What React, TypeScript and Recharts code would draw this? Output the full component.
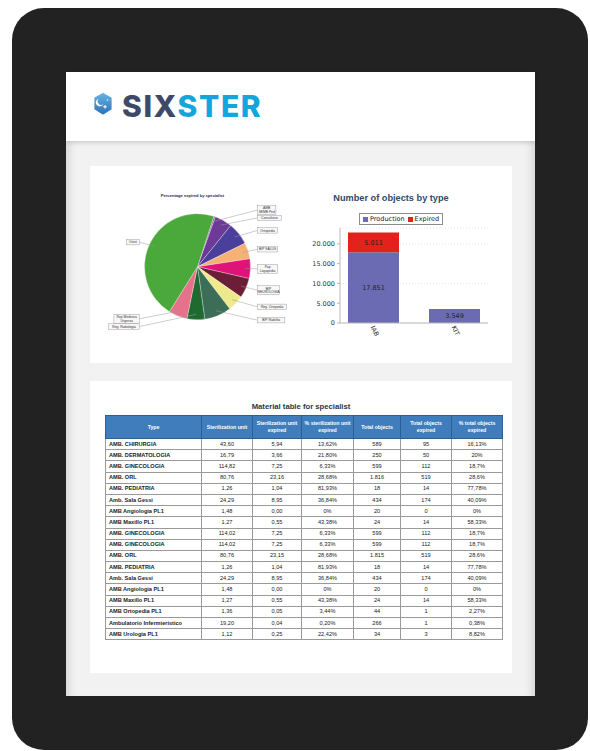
import { PieChart, Pie, Cell, BarChart, Bar, XAxis, YAxis, CartesianGrid, Legend, LabelList } from "recharts"

// pie: percentage expired by specialist (clockwise from the top)
const specialistNames = [
  "AMB\nSEMB Ped",
  "Consultorio",
  "Ortopedia",
  "BIP SALUS",
  "Pap\nLogopedia",
  "BIP\nNEUROLOGIA",
  "Reg. Ortopedia",
  "BIP Riabilita",
  "Reg. Radiologia",
  "Rep Medicina\nUrgenza",
  "Ostet",
]
const specialistShares = [0.5, 5.3, 6.9, 4.9, 6.0, 6.1, 4.9, 8.2, 5.4, 5.7, 46.1]
const specialistColors = [
  "#a05ab8", "#6e3a98", "#4b3f9c", "#f4b274", "#df1479", "#6c1e36",
  "#eee98a", "#3c6d56", "#1f6a30", "#e6718b", "#4aa93a",
]

// bars: number of objects by type
const objectTypes = ["IAB", "KIT"]
const productionCounts = [17851, 3549]
const expiredCounts = [5011, 0]
const yTicks = [0, 5000, 10000, 15000, 20000]
const seriesOrder = ["Production", "Expired"]

// material table
const tableHeaders = [
  "Type",
  "Sterilization unit",
  "Sterilization unit expired",
  "% sterilization unit expired",
  "Total objects",
  "Total objects expired",
  "% total objects expired",
]
const rowTypes = [
  "AMB. CHIRURGIA", "AMB. DERMATOLOGIA", "AMB. GINECOLOGIA", "AMB. ORL", "AMB. PEDIATRIA",
  "Amb. Sala Gessi", "AMB Angiologia PL1", "AMB Maxillo PL1", "AMB. GINECOLOGIA", "AMB. GINECOLOGIA",
  "AMB. ORL", "AMB. PEDIATRIA", "Amb. Sala Gessi", "AMB Angiologia PL1", "AMB Maxillo PL1",
  "AMB Ortopedia PL1", "Ambulatorio Infermieristico", "AMB Urologia PL1",
]
const sterUnits = ["43,60", "16,79", "114,82", "80,76", "1,26", "24,29", "1,48", "1,27", "114,02", "114,02", "80,76", "1,26", "24,29", "1,48", "1,27", "1,36", "19,20", "1,12"]
const sterUnitsExpired = ["5,94", "3,66", "7,25", "23,16", "1,04", "8,95", "0,00", "0,55", "7,25", "7,25", "23,15", "1,04", "8,95", "0,00", "0,55", "0,05", "0,04", "0,25"]
const sterPctExpired = ["13,62%", "21,80%", "6,33%", "28,68%", "81,93%", "36,84%", "0%", "43,38%", "6,33%", "6,33%", "28,68%", "81,93%", "36,84%", "0%", "43,38%", "3,44%", "0,20%", "22,42%"]
const totalObjects = ["589", "250", "599", "1.816", "18", "434", "20", "24", "599", "599", "1.815", "18", "434", "20", "24", "44", "266", "34"]
const totalObjectsExpired = ["95", "50", "112", "519", "14", "174", "0", "14", "112", "112", "519", "14", "174", "0", "14", "1", "1", "3"]
const totalPctExpired = ["16,13%", "20%", "18,7%", "28,6%", "77,78%", "40,09%", "0%", "58,33%", "18,7%", "18,7%", "28,6%", "77,78%", "40,09%", "0%", "58,33%", "2,27%", "0,38%", "8,82%"]

const colWidths = [96, 51, 49, 52, 47, 51, 51]

const PROD = "#6a6bb3"
const EXP = "#e2221d"
const PIE_START = 72
const PIE_R = 53
const LABEL_R = PIE_R + 5
const LINE_H = 3.6

const fmt = (v: number) => String(v).replace(/\B(?=(\d{3})+(?!\d))/g, ".")

const pieData = specialistNames.map((name, i) => ({ name, value: specialistShares[i] }))
const barData = objectTypes.map((type, i) => ({
  type,
  production: productionCounts[i],
  expired: expiredCounts[i],
}))

// label y offsets from the pie centre, spread apart so boxes don't collide
const labelOffsets = (() => {
  const total = specialistShares.reduce((a, b) => a + b, 0)
  let a = PIE_START
  const items = specialistShares.map((v, i) => {
    const sweep = (v / total) * 360
    const mid = a - sweep / 2
    a -= sweep
    const rad = (-mid * Math.PI) / 180
    const h = specialistNames[i].split("\n").length * LINE_H + 1.8
    return { i, right: Math.cos(rad) >= 0, y: LABEL_R * Math.sin(rad), h }
  })
  for (const side of [true, false]) {
    const group = items.filter((it) => it.right === side).sort((p, q) => p.y - q.y)
    for (let pass = 0; pass < 6; pass++) {
      for (let k = 1; k < group.length; k++) {
        const need = (group[k - 1].h + group[k].h) / 2 + 0.6
        const d = need - (group[k].y - group[k - 1].y)
        if (d > 0) {
          group[k - 1].y -= d / 2
          group[k].y += d / 2
        }
      }
    }
  }
  const out: number[] = []
  items.forEach((it) => (out[it.i] = it.y))
  return out
})()

function PieLabel(props: any) {
  const { cx, cy, midAngle, outerRadius, index } = props
  const rad = (-midAngle * Math.PI) / 180
  const cos = Math.cos(rad)
  const sin = Math.sin(rad)
  const sx = cx + outerRadius * 0.9 * cos
  const sy = cy + outerRadius * 0.9 * sin
  const ly = cy + labelOffsets[index]
  const right = cos >= 0
  const lines = specialistNames[index].split("\n")
  const w = Math.max(...lines.map((l) => l.length)) * 1.8 + 4
  const h = lines.length * LINE_H + 1.8
  const bx = right ? cx + outerRadius + 7 : cx - outerRadius - 5 - w
  const ex = right ? bx : bx + w
  return (
    <g>
      <polyline points={`${sx},${sy} ${ex},${ly}`} stroke="#9a9a9a" strokeWidth={0.5} fill="none" />
      <rect x={bx} y={ly - h / 2} width={w} height={h} fill="#f7f7f7" stroke="#8a8a8a" strokeWidth={0.4} />
      {lines.map((l, i) => (
        <text key={i} x={bx + w / 2} y={ly - h / 2 + 3.9 + i * LINE_H} fontSize={3.3}
          textAnchor="middle" fill="#333" fontFamily="Liberation Sans, Arial, sans-serif">
          {l}
        </text>
      ))}
    </g>
  )
}

function RotatedTick(props: any) {
  const { x, y, payload } = props
  return (
    <g transform={`translate(${x - 3},${y - 4})`}>
      <text x={0} y={0} transform="rotate(65)" textAnchor="start" fontSize={6.5}
        fill="#333" fontFamily="DejaVu Sans, sans-serif">
        {payload.value}
      </text>
    </g>
  )
}

function BarLegend(props: any) {
  const items = [...(props.payload || [])].sort(
    (p: any, q: any) => seriesOrder.indexOf(p.value) - seriesOrder.indexOf(q.value),
  )
  return (
    <div style={{
      display: "flex", alignItems: "center", gap: 3, border: "1px solid #8c8c8c",
      background: "#fff", padding: "0 3px", height: 12, boxSizing: "border-box",
      fontSize: 6.5, fontFamily: "DejaVu Sans, sans-serif", color: "#222", whiteSpace: "nowrap",
    }}>
      {items.map((it: any) => (
        <span key={it.value} style={{ display: "flex", alignItems: "center", gap: 2 }}>
          <span style={{ width: 5, height: 5, background: it.color, display: "inline-block" }} />
          {it.value}
        </span>
      ))}
    </div>
  )
}

function Logo() {
  return (
    <div style={{ position: "absolute", left: 94, top: 91, height: 30, display: "flex" }}>
      <svg width={18} height={22} viewBox="0 0 18 22" style={{ marginTop: 2 }}>
        <defs>
          <linearGradient id="lg" x1="0" y1="0" x2="0" y2="1">
            <stop offset="0" stopColor="#62b2e6" />
            <stop offset="1" stopColor="#2f72b8" />
          </linearGradient>
        </defs>
        <path d="M9 0.5 L17 5 L17 16 L9 21 L1 16 L1 5 Z" fill="url(#lg)" stroke="url(#lg)" strokeWidth={1.2} strokeLinejoin="round" />
        <path d="M5 5.5 A4 4 0 1 0 9.5 11 A3 3 0 1 1 5 5.5 Z" fill="#fff" />
        <rect x={9.2} y={13.3} width={3.6} height={1} fill="#fff" />
        <rect x={10.5} y={12} width={1} height={3.6} fill="#fff" />
        <circle cx={13.5} cy={7} r={0.8} fill="#fff" />
      </svg>
      <div style={{
        marginLeft: 10, fontFamily: "Inter, sans-serif", fontWeight: 800, fontSize: 30,
        lineHeight: "30px", letterSpacing: 1.6,
      }}>
        <span style={{ color: "#3c4a67" }}>SIX</span>
        <span style={{ color: "#12a6dc" }}>STER</span>
      </div>
    </div>
  )
}

function MaterialTable() {
  const columns = [rowTypes, sterUnits, sterUnitsExpired, sterPctExpired, totalObjects, totalObjectsExpired, totalPctExpired]
  const cellFont = { fontFamily: "Liberation Sans, Arial, sans-serif", fontSize: 5.6 }
  return (
    <table style={{
      position: "absolute", left: 105, top: 415, width: 397, borderCollapse: "collapse",
      tableLayout: "fixed", border: "1.5px solid #555", ...cellFont,
    }}>
      <colgroup>
        {colWidths.map((w, i) => <col key={i} style={{ width: w }} />)}
      </colgroup>
      <thead>
        <tr style={{ height: 23 }}>
          {tableHeaders.map((h) => (
            <th key={h} style={{
              background: "#3f7dbd", color: "#fff", fontWeight: 700, border: "1px solid #2d5f92",
              padding: "0 1px", textAlign: "center", lineHeight: "7px", fontSize: 5.2,
            }}>{h}</th>
          ))}
        </tr>
      </thead>
      <tbody>
        {rowTypes.map((t, r) => (
          <tr key={r} style={{ height: 11.2 }}>
            {columns.map((col, c) => (
              <td key={c} style={{
                border: "1px solid #9a9a9a", padding: c === 0 ? "0 3px" : 0,
                textAlign: c === 0 ? "left" : "center", fontWeight: c === 0 ? 700 : 400,
                color: "#222", lineHeight: "9px", whiteSpace: "nowrap",
              }}>{col[r]}</td>
            ))}
          </tr>
        ))}
      </tbody>
    </table>
  )
}

export default function App() {
  return (
    <div style={{ position: "fixed", left: 0, top: 0, width: 590, height: 751, background: "#fff", overflow: "hidden" }}>
      <style>{`.pie-box .recharts-pie-sectors{filter:drop-shadow(1px 1.5px 1px rgba(0,0,0,0.35))}`}</style>
      {/* tablet frame */}
      <div style={{ position: "absolute", left: 12, top: 8, width: 576, height: 742, background: "#222", borderRadius: 32 }} />
      {/* screen */}
      <div style={{
        position: "absolute", left: 66, top: 72, width: 469, height: 624, background: "#f2f2f2",
        boxShadow: "inset 10px 0 10px -8px rgba(0,0,0,0.15), inset -10px 0 10px -8px rgba(0,0,0,0.15)",
      }} />
      <div style={{ position: "absolute", left: 66, top: 72, width: 469, height: 69, background: "#fff", boxShadow: "0 2px 4px rgba(0,0,0,0.15)" }} />
      <Logo />

      {/* cards */}
      <div style={{ position: "absolute", left: 90, top: 166, width: 422, height: 197, background: "#fff" }} />
      <div style={{ position: "absolute", left: 90, top: 381, width: 422, height: 292, background: "#fff" }} />

      {/* pie chart */}
      <div style={{
        position: "absolute", left: 142, top: 193, width: 101, textAlign: "center",
        fontFamily: "Liberation Sans, Arial, sans-serif", fontWeight: 700, fontSize: 4.1,
        color: "#27285c", lineHeight: "5px", whiteSpace: "nowrap",
      }}>Percentage expired by specialist</div>
      <div className="pie-box" style={{ position: "absolute", left: 100, top: 185 }}>
        <PieChart width={200} height={150}>
          <Pie data={pieData} dataKey="value" nameKey="name" cx={92.5} cy={76.7} outerRadius={PIE_R}
            startAngle={PIE_START} endAngle={PIE_START - 360} stroke="#ffffff" strokeWidth={0.3}
            label={PieLabel} labelLine={false} isAnimationActive={false}>
            {pieData.map((d, i) => <Cell key={d.name + i} fill={specialistColors[i]} />)}
          </Pie>
        </PieChart>
      </div>

      {/* bar chart */}
      <div style={{
        position: "absolute", left: 291, top: 192, width: 200, textAlign: "center",
        fontFamily: "Liberation Sans, Arial, sans-serif", fontWeight: 700, fontSize: 9.2,
        color: "#2e4a6c", lineHeight: "12px", whiteSpace: "nowrap",
      }}>Number of objects by type</div>
      <div style={{ position: "absolute", left: 300, top: 180 }}>
        <BarChart width={210} height={175} data={barData} margin={{ top: 48, right: 22, left: 0, bottom: 0 }} barSize={51}>
          <CartesianGrid vertical={false} stroke="#e4e4e4" strokeDasharray="1 2" />
          <XAxis dataKey="type" height={32} padding={{ left: -7, right: -7 }} tick={<RotatedTick />}
            axisLine={{ stroke: "#b8b8b8" }} tickLine={false} />
          <YAxis width={40} domain={[0, 24000]} ticks={yTicks} tickFormatter={fmt} tickSize={3} tickMargin={2}
            tick={{ fontSize: 6.5, fill: "#333", fontFamily: "DejaVu Sans, sans-serif" }}
            axisLine={{ stroke: "#b8b8b8" }} tickLine={{ stroke: "#b8b8b8" }} />
          <Legend layout="horizontal" verticalAlign="middle" align="center" content={<BarLegend />}
            wrapperStyle={{ top: 33, left: 59, width: "auto", height: 12 }} />
          <Bar dataKey="production" name="Production" stackId="a" fill={PROD} isAnimationActive={false}>
            <LabelList dataKey="production" position="center" formatter={(v: any) => (v ? fmt(v) : "")}
              style={{ fontSize: 6.5, fill: "#222", fontFamily: "DejaVu Sans, sans-serif" }} />
          </Bar>
          <Bar dataKey="expired" name="Expired" stackId="a" fill={EXP} isAnimationActive={false}>
            <LabelList dataKey="expired" position="center" formatter={(v: any) => (v ? fmt(v) : "")}
              style={{ fontSize: 6.5, fill: "#222", fontFamily: "DejaVu Sans, sans-serif" }} />
          </Bar>
        </BarChart>
      </div>

      {/* table */}
      <div style={{
        position: "absolute", left: 90, top: 402, width: 422, textAlign: "center",
        fontFamily: "Liberation Sans, Arial, sans-serif", fontWeight: 700, fontSize: 7.7,
        color: "#2b3546", lineHeight: "10px",
      }}>Material table for specialist</div>
      <MaterialTable />
    </div>
  )
}
